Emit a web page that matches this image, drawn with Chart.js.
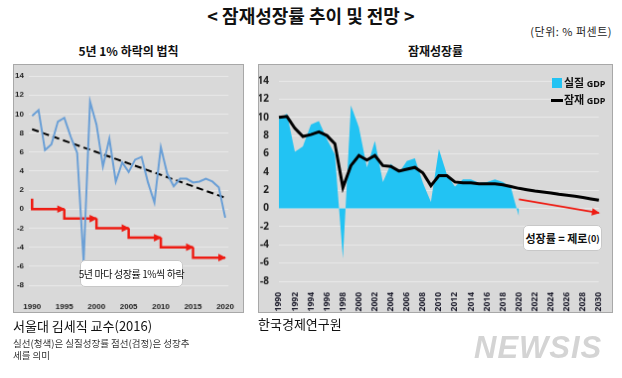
<!DOCTYPE html>
<html><head><meta charset="utf-8">
<script src="https://cdn.jsdelivr.net/npm/chart.js@4.4.1/dist/chart.umd.min.js"></script>
<style>
body{margin:0;width:622px;height:378px;background:#fff;position:relative;overflow:hidden;font-family:"Noto Sans CJK KR","Noto Sans",sans-serif;color:#111;}
.t{position:absolute;white-space:nowrap;line-height:1;}
canvas{position:absolute;background:#d9d9d9;border:1px solid #a8a8a8;box-sizing:border-box;}
.box{position:absolute;background:#fff;border:1px solid #c8c8c8;border-radius:5px;box-sizing:border-box;display:flex;align-items:center;justify-content:center;white-space:nowrap;}
</style></head><body>
<div class="t" style="left:0;width:622px;text-align:center;top:6px;font-size:18px;font-weight:700;">&lt; 잠재성장률 추이 및 전망 &gt;</div>
<div class="t" style="right:10px;top:26px;font-size:11px;color:#222;letter-spacing:0.5px;">(단위: % 퍼센트)</div>
<div class="t" style="left:13px;width:231px;text-align:center;top:45px;font-size:12px;font-weight:700;">5년 1% 하락의 법칙</div>
<div class="t" style="left:258px;width:355px;text-align:center;top:45px;font-size:12px;font-weight:700;">잠재성장률</div>

<canvas id="c1" width="231" height="249" style="left:13px;top:64px;width:231px;height:249px;"></canvas>
<canvas id="c2" width="355" height="249" style="left:258px;top:64px;width:355px;height:249px;"></canvas>

<div class="box" style="left:80px;top:260px;width:103px;height:27px;font-size:10px;letter-spacing:-0.4px;">5년 마다 성장률 1%씩 하락</div>
<div class="box" style="left:523px;top:225px;width:79px;height:26px;font-size:11px;font-weight:700;">성장률 = 제로<span style="font-size:9px">(0)</span></div>

<div class="t" style="left:552px;top:78px;width:10px;height:10px;background:#22c3f3;"></div>
<div class="t" style="left:564px;top:77px;font-size:11px;font-weight:700;">실질 <span style="font-size:9px;font-family:'Noto Sans',sans-serif;">GDP</span></div>
<div class="t" style="left:551px;top:99px;width:12px;height:3px;background:#000;"></div>
<div class="t" style="left:564px;top:94px;font-size:11px;font-weight:700;">잠재 <span style="font-size:9px;font-family:'Noto Sans',sans-serif;">GDP</span></div>

<div class="t" style="left:13px;top:319px;font-size:13px;">서울대 김세직 교수(2016)</div>
<div class="t" style="left:13px;top:339px;font-size:9.5px;color:#333;">실선(청색)은 실질성장률 점선(검정)은 성장추</div>
<div class="t" style="left:13px;top:351px;font-size:9.5px;color:#333;">세를 의미</div>
<div class="t" style="left:258px;top:317px;font-size:13px;">한국경제연구원</div>
<div class="t" style="left:474px;top:332px;font-size:31px;font-weight:900;font-style:italic;color:#d4d4d4;font-family:'Liberation Sans',sans-serif;letter-spacing:1px;">NEWSIS</div>

<script>
// ---- data ----
const leftYears = [1990,1991,1992,1993,1994,1995,1996,1997,1998,1999,2000,2001,2002,2003,2004,2005,2006,2007,2008,2009,2010,2011,2012,2013,2014,2015,2016,2017,2018,2019,2020];
const actualGDP = [9.8,10.4,6.2,6.8,9.2,9.6,7.6,5.9,-5.5,11.3,8.9,4.5,7.4,2.9,4.9,3.9,5.2,5.5,2.8,0.7,6.5,3.7,2.4,3.2,3.2,2.8,2.9,3.2,2.9,2.3,-0.9];
const trendStart = [1990, 8.4];
const trendEnd = [2020, 1.2];
const stepStarts = [1990,1995,2000,2005,2010,2015];
const stepLevels = [0,-1,-2,-3,-4,-5.1];
const stepFirstTop = 1.1;
const leftXTicks = [1990,1995,2000,2005,2010,2015,2020];

const rightYears = [1990,1991,1992,1993,1994,1995,1996,1997,1998,1999,2000,2001,2002,2003,2004,2005,2006,2007,2008,2009,2010,2011,2012,2013,2014,2015,2016,2017,2018,2019,2020,2021,2022,2023,2024,2025,2026,2027,2028,2029,2030];
const potentialGDP = [10.0,10.1,8.8,7.9,8.1,8.4,8.0,7.1,2.3,4.7,5.8,5.3,5.8,4.7,4.6,4.1,4.3,4.5,3.9,2.5,3.6,3.6,2.9,2.8,2.8,2.7,2.7,2.7,2.6,2.4,2.2,2.05,1.9,1.8,1.7,1.55,1.45,1.35,1.2,1.05,0.9];
const zeroArrow = [['2020',1.0],['2030',-0.5]];
const yMin = -8, yMax = 14, yStep = 2;

// ---- arrow plugin ----
const arrowPlugin = {
  id:'arrows',
  afterDatasetsDraw(chart){
    const ctx = chart.ctx;
    chart.data.datasets.forEach((ds,i)=>{
      if(!ds.arrowSize) return;
      const pts = chart.getDatasetMeta(i).data;
      const a = pts[pts.length-2], b = pts[pts.length-1];
      const ang = Math.atan2(b.y-a.y, b.x-a.x), L = ds.arrowSize, W = L*0.55;
      const bx = b.x - L*Math.cos(ang), by = b.y - L*Math.sin(ang);
      ctx.save(); ctx.fillStyle = ds.borderColor; ctx.beginPath();
      ctx.moveTo(b.x + 1*Math.cos(ang), b.y + 1*Math.sin(ang));
      ctx.lineTo(bx + W*Math.sin(ang), by - W*Math.cos(ang));
      ctx.lineTo(bx - W*Math.sin(ang), by + W*Math.cos(ang));
      ctx.closePath(); ctx.fill(); ctx.restore();
    });
  }
};

Chart.defaults.font.family = "'Liberation Sans Narrow','Liberation Sans',sans-serif";
Chart.defaults.animation = false;

// ---- left chart ----
const stepSets = stepStarts.map((s,i)=>({
  data:[{x:s,y:i===0?stepFirstTop:stepLevels[i-1]},{x:s,y:stepLevels[i]},{x:s+5,y:stepLevels[i]}],
  borderColor:'#ee1b12', borderWidth:2.5, pointRadius:0, fill:false, tension:0, arrowSize:7,
  borderJoinStyle:'miter'
}));
new Chart(document.getElementById('c1'),{
  type:'line',
  data:{datasets:[
    {data:leftYears.map((y,i)=>({x:y,y:actualGDP[i]})), borderColor:'#6a9fd6', borderWidth:2, pointRadius:0, tension:0, fill:false},
    {data:[{x:trendStart[0],y:trendStart[1]},{x:trendEnd[0],y:trendEnd[1]}], borderColor:'#000', borderWidth:2, borderDash:[7,4], pointRadius:0},
    ...stepSets
  ]},
  options:{
    responsive:false, animation:false,
    layout:{padding:{left:0,right:4,top:11,bottom:0}},
    plugins:{legend:{display:false},tooltip:{enabled:false}},
    scales:{
      x:{type:'linear',min:1989.5,max:2020.5,
        afterBuildTicks(s){s.ticks = leftXTicks.map(v=>({value:v}));},
        afterFit(s){s.height=27;},
        grid:{display:false}, border:{display:false},
        ticks:{font:{size:8,weight:'bold'},color:'#222',padding:9,maxRotation:0,autoSkip:false,callback:v=>String(v)}},
      y:{min:yMin,max:yMax,
        afterFit(s){s.width=15;},
        grid:{color:'#e8e8e8',drawTicks:false}, border:{display:false},
        ticks:{stepSize:yStep,font:{size:8,weight:'bold'},color:'#222',padding:5}}
    }
  },
  plugins:[arrowPlugin]
});

// ---- right chart ----
new Chart(document.getElementById('c2'),{
  type:'line',
  data:{labels:rightYears.map(String), datasets:[
    {data:potentialGDP, borderColor:'#000', borderWidth:3, pointRadius:0, tension:0, order:1},
    {data:zeroArrow.map(p=>({x:p[0],y:p[1]})), borderColor:'#ee1b12', borderWidth:1.8, pointRadius:0, arrowSize:7, order:2},
    {data:actualGDP, borderWidth:0, borderColor:'rgba(0,0,0,0)', backgroundColor:'#22c3f3', fill:'origin', pointRadius:0, tension:0, order:3}
  ]},
  options:{
    responsive:false, animation:false,
    layout:{padding:{left:0,right:6,top:7,bottom:0}},
    plugins:{legend:{display:false},tooltip:{enabled:false}},
    scales:{
      x:{afterFit(s){s.height=31;},
        grid:{display:false}, border:{display:false},
        ticks:{font:{family:"'Noto Sans',sans-serif",size:8.5,weight:'bold'},color:'#1a1a2a',padding:3,minRotation:90,maxRotation:90,autoSkip:false,
          callback:function(v,i){return i%2===0?rightYears[i]:'';}}},
      y:{min:yMin,max:yMax,
        afterFit(s){s.width=20;},
        grid:{color:'#e8e8e8',drawTicks:false}, border:{display:false},
        ticks:{stepSize:yStep,font:{family:"'Noto Sans',sans-serif",size:10,weight:'bold'},color:'#222',padding:10}}
    }
  },
  plugins:[arrowPlugin]
});
</script>
</body></html>
